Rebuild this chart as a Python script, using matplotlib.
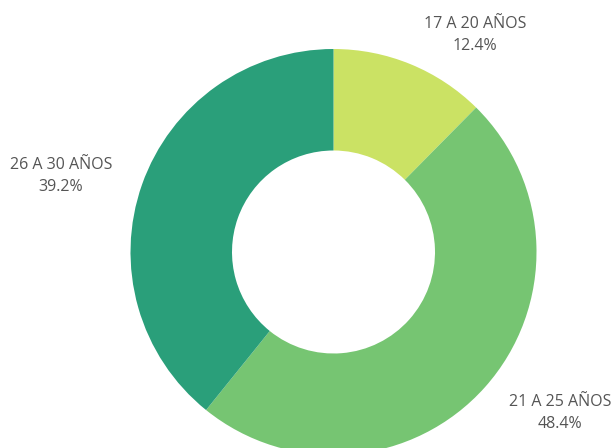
import matplotlib.pyplot as plt

plt.rcParams['font.family'] = ['Open Sans', 'DejaVu Sans']

# data
labels = ["17 A 20 AÑOS", "21 A 25 AÑOS", "26 A 30 AÑOS"]
values = [12.4, 48.4, 39.2]
colors = ["#cbe264", "#76c572", "#2a9f7a"]

W, H = 611, 448
fig = plt.figure(figsize=(W / 100, H / 100), dpi=100)

# donut centre ~ (333.5, 252) px, outer radius ~203 px
cx, cy, r = 333.5, 252, 203
ax = fig.add_axes([(cx - r) / W, (H - cy - r) / H, 2 * r / W, 2 * r / H])

ax.pie(values, colors=colors, startangle=90, counterclock=False,
       radius=1, wedgeprops=dict(width=0.5, linewidth=0))
ax.set_xlim(-1, 1)
ax.set_ylim(-1, 1)
ax.set_aspect("equal")
ax.axis("off")

# label positions in pixels (centre of text block)
label_pos = [(475, 35), (560, 413), (61, 176)]
for lab, val, (x, y) in zip(labels, values, label_pos):
    fig.text(x / W, 1 - y / H, f"{lab}\n{val:.1f}%", ha="center", va="center",
             fontsize=11.5, color="#555555", linespacing=1.45)

fig.savefig("out.png", dpi=100)
